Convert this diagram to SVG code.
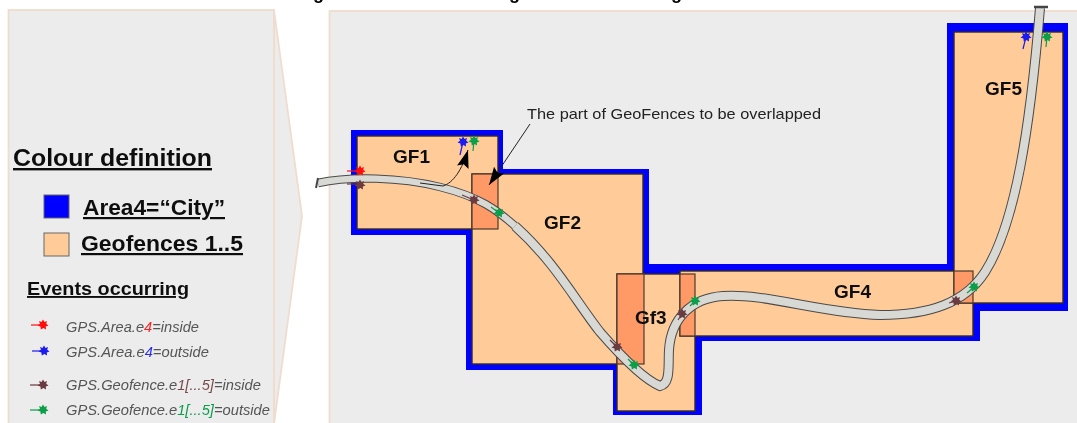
<svg xmlns="http://www.w3.org/2000/svg" xmlns:xlink="http://www.w3.org/1999/xlink" width="1077" height="423" viewBox="0 0 1077 423">
<style>
text{font-family:"Liberation Sans",Arial,sans-serif}
.panel{fill:#ececec;stroke:#f0dccd;stroke-width:1.8}
.gf{fill:#ffcc99;stroke:#332a22;stroke-width:1.4}
.ov{fill:#ff9966;stroke:#4a3a2e;stroke-width:1.2}
.lab{font-weight:bold;font-size:19px;fill:#111}
.ev{font-style:italic;font-size:14px;fill:#555}
.h{font-weight:bold;fill:#111;text-decoration:underline}
.road1{fill:none;stroke:#4a4a4a}
.road2{fill:none;stroke:#d8d8d4}
.tail{stroke:currentColor;stroke-width:1.2;fill:none}
.red{color:#ff1010}.blue{color:#1a1af0}.brown{color:#6b3a3f}.green{color:#0a9e4a}
</style>
<defs>
<filter id="soft" filterUnits="userSpaceOnUse" x="0" y="0" width="1077" height="423"><feGaussianBlur stdDeviation="0.45"/></filter>
<path id="star" fill="currentColor" d="M0-5.500 1.500-3 4-4 3.200-1.200 5.500 .4 2.800 1.500 3 4.500 .4 3-2.200 4.500-2.600 1.500-5.500 .4-3-1.200-4-4-1.500-3Z"/>
<marker id="ah" markerUnits="userSpaceOnUse" markerWidth="20" markerHeight="14" refX="18" refY="7" orient="auto"><path d="M0 1 18 7 0 13 3 7Z" fill="#000"/></marker>
</defs>
<rect width="1077" height="423" fill="#fff"/>
<g filter="url(#soft)">
<text x="313" y="-1" font-size="18" font-weight="bold">g</text>
<text x="509" y="-1" font-size="18" font-weight="bold">g</text>
<text x="671" y="-1" font-size="18" font-weight="bold">g</text>

<g id="legend-panel">
<path class="panel" d="M274 10 302 216 274 424Z"/>
<rect class="panel" x="8.500" y="10" width="265.500" height="414"/>
<text class="h" x="13" y="166" font-size="24" textLength="199" lengthAdjust="spacingAndGlyphs">Colour definition</text>
<rect x="44" y="195" width="25" height="23" fill="#0000ff" stroke="#666"/>
<text class="h" x="83" y="215" font-size="22" textLength="142" lengthAdjust="spacingAndGlyphs">Area4=“City”</text>
<rect x="44" y="233" width="25" height="23" fill="#ffcc99" stroke="#666"/>
<text class="h" x="81" y="251" font-size="22" textLength="162" lengthAdjust="spacingAndGlyphs">Geofences 1..5</text>
<text class="h" x="27" y="295" font-size="19" textLength="162" lengthAdjust="spacingAndGlyphs">Events occurring</text>
<g class="red"><path class="tail" d="M31 325H43"/><use xlink:href="#star" href="#star" x="43" y="325"/></g>
<text class="ev" x="66" y="332" textLength="133" lengthAdjust="spacingAndGlyphs">GPS.Area.e<tspan fill="#ff2020">4</tspan>=inside</text>
<g class="blue"><path class="tail" d="M32 351H44"/><use xlink:href="#star" href="#star" x="44" y="351"/></g>
<text class="ev" x="66" y="357" textLength="143" lengthAdjust="spacingAndGlyphs">GPS.Area.e<tspan fill="#2a2af0">4</tspan>=outside</text>
<g class="brown"><path class="tail" d="M30 385H43"/><use xlink:href="#star" href="#star" x="43" y="385"/></g>
<text class="ev" x="66" y="390" textLength="195" lengthAdjust="spacingAndGlyphs">GPS.Geofence.e<tspan fill="#7a4a4a">1[...5]</tspan>=inside</text>
<g class="green"><path class="tail" d="M30 410H43"/><use xlink:href="#star" href="#star" x="43" y="410"/></g>
<text class="ev" x="66" y="415" textLength="204" lengthAdjust="spacingAndGlyphs">GPS.Geofence.e<tspan fill="#0a9e4a">1[...5]</tspan>=outside</text>
</g>

<g id="map-panel"><rect class="panel" x="329.500" y="11" width="749" height="414"/></g>

<g id="area4"><path fill="#0000ff" d="M351 130H503V169H649V264H947V23H1068V311H980V341H702V415H613V370H466V235H351Z"/></g>

<g id="gf1"><rect class="gf" x="357" y="136" width="141" height="93"/></g>
<g id="gf2"><rect class="gf" x="472" y="174" width="171" height="190"/></g>
<g id="gf3"><rect class="gf" x="617" y="274" width="78" height="137"/></g>
<g id="gf4"><rect class="gf" x="680" y="271" width="293" height="65"/></g>
<g id="gf5"><rect class="gf" x="954" y="32" width="109" height="271"/></g>

<g id="overlaps">
<rect class="ov" x="472" y="174" width="26" height="55"/>
<rect class="ov" x="617" y="274" width="27" height="90"/>
<rect class="ov" x="680" y="274" width="15" height="62"/>
<rect class="ov" x="954" y="271" width="19" height="32"/>
</g>

<g id="labels">
<text class="lab" x="393" y="163">GF1</text>
<text class="lab" x="544" y="229">GF2</text>
<text class="lab" x="635" y="324">Gf3</text>
<text class="lab" x="834" y="298">GF4</text>
<text class="lab" x="985" y="95">GF5</text>
<text x="527" y="119" font-size="15" fill="#222" textLength="294" lengthAdjust="spacingAndGlyphs">The part of GeoFences to be overlapped</text>
</g>

<g id="connectors">
<path class="road1" stroke-width="10" d="M515 226C555 262 575 300 600 332C620 355 645 380 660 386C671 384 668 365 669 350C671 318 692 298 723 296C765 293 820 313 880 315C930 315 965 303 985 272C1015 225 1030 130 1040 8"/>
<path class="road1" stroke-width="8.500" d="M318 183C350 176 400 177 440 187S497 210 515 226"/>
<path class="road2" stroke-width="8" d="M515 226C555 262 575 300 600 332C620 355 645 380 660 386C671 384 668 365 669 350C671 318 692 298 723 296C765 293 820 313 880 315C930 315 965 303 985 272C1015 225 1030 130 1040 8"/>
<path class="road2" stroke-width="6.500" d="M318 183C350 176 400 177 440 187S497 210 515 226"/>
<path d="M318 178 316 188" stroke="#444" stroke-width="2"/>
<path d="M1034 7H1048" stroke="#444" stroke-width="2.500"/>
<path d="M530 124 489 185" fill="none" stroke="#222" stroke-width="1" marker-end="url(#ah)"/>
<path d="M420 183 443 186C453 183 462 170 468 150" fill="none" stroke="#222" stroke-width="1" marker-end="url(#ah)"/>
</g>

<g id="events">
<g class="red"><path class="tail" d="M347 171H360"/><use xlink:href="#star" href="#star" x="360" y="171"/></g>
<g class="brown"><path class="tail" d="M347 184H360"/><use xlink:href="#star" href="#star" x="360" y="185"/></g>
<g class="blue"><path class="tail" d="M460 155 463 142"/><use xlink:href="#star" href="#star" x="463" y="142"/></g>
<g class="green"><path class="tail" d="M473 151 474 141"/><use xlink:href="#star" href="#star" x="474" y="141"/></g>
<g class="brown"><path class="tail" d="M462 195 474 200"/><use xlink:href="#star" href="#star" x="474" y="200"/></g>
<g class="green"><path class="tail" d="M491 207 499 213"/><use xlink:href="#star" href="#star" x="499" y="213"/></g>
<g class="brown"><path class="tail" d="M610 340 617 347"/><use xlink:href="#star" href="#star" x="617" y="347"/></g>
<g class="green"><path class="tail" d="M628 359 634 365"/><use xlink:href="#star" href="#star" x="634" y="365"/></g>
<g class="brown"><path class="tail" d="M678 320 682 314"/><use xlink:href="#star" href="#star" x="682" y="314"/></g>
<g class="green"><path class="tail" d="M690 306 695 301"/><use xlink:href="#star" href="#star" x="695" y="301"/></g>
<g class="brown"><path class="tail" d="M949 303 956 301"/><use xlink:href="#star" href="#star" x="956" y="301"/></g>
<g class="green"><path class="tail" d="M967 293 974 287"/><use xlink:href="#star" href="#star" x="974" y="287"/></g>
<g class="blue"><path class="tail" d="M1023 49 1026 37"/><use xlink:href="#star" href="#star" x="1026" y="37"/></g>
<g class="green"><path class="tail" d="M1046 47 1047 37"/><use xlink:href="#star" href="#star" x="1047" y="37"/></g>
</g>
</g>
</svg>
